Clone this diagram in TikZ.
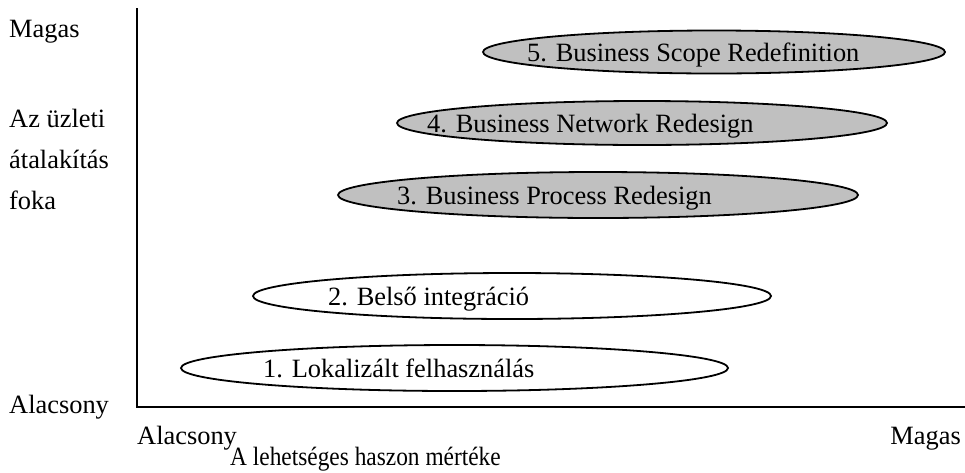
\documentclass[tikz,border=0pt]{standalone}
\usepackage{fontspec}
\setmainfont{Liberation Serif}
\usetikzlibrary{shapes.geometric}
\definecolor{stagegray}{HTML}{C0C0C0}
\begin{document}
\begin{tikzpicture}[x=1pt,y=-1pt,
  txt/.style={font=\fontsize{26.4}{30}\selectfont, inner sep=0pt},
  stage/.style={ellipse, draw=black, line width=1.8pt, inner sep=0pt},
  grey stage/.style={stage, fill=stagegray},
  axisline/.style={line width=2.2pt}]
\useasboundingbox (0,0) rectangle (965,472);

% axes
\coordinate (ytop) at (137,8);
\coordinate (origin) at (137,407);
\coordinate (xend) at (965,407);
\draw[axisline] (ytop) -- (origin) -- (xend);

% stages
\node[grey stage, minimum width=462pt, minimum height=43pt] (e5) at (714,52) {};
\node[grey stage, minimum width=490pt, minimum height=44pt] (e4) at (642,123) {};
\node[grey stage, minimum width=520pt, minimum height=46pt] (e3) at (598,195) {};
\node[stage, minimum width=518pt, minimum height=46pt] (e2) at (512,296) {};
\node[stage, minimum width=547pt, minimum height=46pt] (e1) at (454.5,368) {};

\node[txt, anchor=base west] (t5) at (527,61) {5. Business Scope Redefinition};
\node[txt, anchor=base west] (t4) at (427,132) {4. Business Network Redesign};
\node[txt, anchor=base west] (t3) at (397,204) {3. Business Process Redesign};
\node[txt, anchor=base west] (t2) at (328,305) {2. Belső integráció};
\node[txt, anchor=base west] (t1) at (263,377) {1. Lokalizált felhasználás};

% vertical axis labels
\node[txt, anchor=base west] (yhigh) at (9,37) {Magas};
\node[txt, anchor=base west] (ytitle1) at (9,127) {Az üzleti};
\node[txt, anchor=base west] (ytitle2) at (9,168) {átalakítás};
\node[txt, anchor=base west] (ytitle3) at (9,209) {foka};
\node[txt, anchor=base west] (ylow) at (9,413) {Alacsony};

% horizontal axis labels
\node[txt, anchor=base west] (xlow) at (137,444) {Alacsony};
\node[txt, anchor=base east] (xhigh) at (961,444) {Magas};
\node[txt, anchor=base west] (xtitle) at (230,465) {\scalebox{0.885}[1]{A lehetséges haszon mértéke}};
\end{tikzpicture}
\end{document}
